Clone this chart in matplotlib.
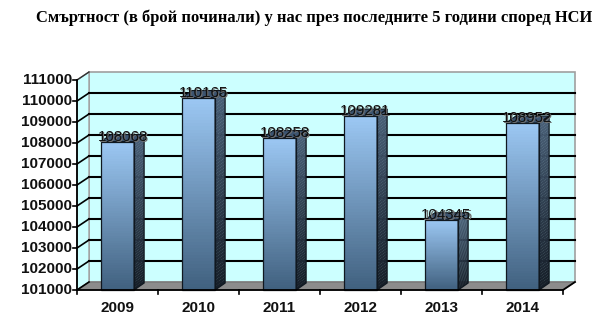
import matplotlib
matplotlib.use("Agg")
import matplotlib.pyplot as plt
import numpy as np
from matplotlib.patches import Polygon
from matplotlib.transforms import IdentityTransform
import matplotlib.colors as mcolors

years = ["2009", "2010", "2011", "2012", "2013", "2014"]
deaths = [108068, 110165, 108258, 109281, 104345, 108952]
y_ticks = list(range(101000, 111001, 1000))
title = "Смъртност (в брой починали) у нас през последните 5 години според НСИ"

W, H = 610, 329
fig = plt.figure(figsize=(W / 100, H / 100), dpi=100)
fig.patch.set_facecolor("white")

# front plane in pixels
fx0, fx1, fy_top, fy_bot = 77, 563, 80, 290
ax = fig.add_axes([fx0 / W, 1 - fy_bot / H, (fx1 - fx0) / W, (fy_bot - fy_top) / H])
ax.set_xlim(0, len(years))
ax.set_ylim(y_ticks[0], y_ticks[-1])
ax.axis("off")

DX, DY = 12, 8      # wall depth (pixels)
BDX, BDY = 10, 7    # bar depth (pixels)
ident = IdentityTransform()


def px(x, y):
    X, Y = ax.transData.transform((x, y))
    return X, Y


def poly(pts, **kw):
    p = Polygon(pts, closed=True, transform=ident, **kw)
    fig.add_artist(p)
    return p


ymin, ymax = y_ticks[0], y_ticks[-1]
n = len(years)

# back wall
bl = px(0, ymin); br = px(n, ymin); tl = px(0, ymax); tr = px(n, ymax)
poly([(bl[0] + DX, bl[1] + DY), (br[0] + DX, br[1] + DY), (tr[0] + DX, tr[1] + DY), (tl[0] + DX, tl[1] + DY)],
     facecolor="#ccffff", edgecolor="#a0a0a0", lw=1.2, zorder=1)
# side wall
poly([bl, (bl[0] + DX, bl[1] + DY), (tl[0] + DX, tl[1] + DY), tl],
     facecolor="#ccffff", edgecolor="#a0a0a0", lw=1.0, zorder=1)
# floor
poly([bl, br, (br[0] + DX, br[1] + DY), (bl[0] + DX, bl[1] + DY)],
     facecolor="#8c8c8c", edgecolor="#707070", lw=0.8, zorder=1)

# gridlines
for v in y_ticks[1:-1]:
    a = px(0, v); b = px(n, v)
    fig.add_artist(plt.Line2D([a[0] + DX, b[0] + DX], [a[1] + DY, b[1] + DY], color="black", lw=1.5, transform=ident, zorder=2))
for v in y_ticks[:-1]:
    a = px(0, v)
    fig.add_artist(plt.Line2D([a[0], a[0] + DX], [a[1], a[1] + DY], color="black", lw=1.2, transform=ident, zorder=2))
a = px(0, ymax)
fig.add_artist(plt.Line2D([a[0], a[0] + DX], [a[1], a[1] + DY], color="#303030", lw=1.0, transform=ident, zorder=2))

# bars
front_top = np.array(mcolors.to_rgb("#9cc8f4"))
front_bot = np.array(mcolors.to_rgb("#40607e"))
side_top = np.array(mcolors.to_rgb("#4a6078"))
side_bot = np.array(mcolors.to_rgb("#161e28"))
bw = 0.41
NS = 60
for i, v in enumerate(deaths):
    x0, x1 = i + 0.5 - bw / 2, i + 0.5 + bw / 2
    p0 = px(x0, ymin); p1 = px(x1, v)
    ys = np.linspace(p0[1], p1[1], NS + 1)
    for k in range(NS):
        t = (k + 0.5) / NS
        c = front_bot * (1 - t) + front_top * t
        poly([(p0[0], ys[k]), (p1[0], ys[k]), (p1[0], ys[k + 1] + 0.3), (p0[0], ys[k + 1] + 0.3)],
             facecolor=c, edgecolor="none", zorder=4)
        c2 = side_bot * (1 - t) + side_top * t
        poly([(p1[0], ys[k]), (p1[0] + BDX, ys[k] + BDY), (p1[0] + BDX, ys[k + 1] + BDY + 0.3), (p1[0], ys[k + 1] + 0.3)],
             facecolor=c2, edgecolor="none", zorder=4)
    # top face
    poly([(p0[0], p1[1]), (p1[0], p1[1]), (p1[0] + BDX, p1[1] + BDY), (p0[0] + BDX, p1[1] + BDY)],
         facecolor="#3c5470", edgecolor="#101820", lw=0.8, zorder=5)
    # outlines
    poly([(p0[0], p0[1]), (p1[0], p0[1]), (p1[0], p1[1]), (p0[0], p1[1])],
         facecolor="none", edgecolor="#101820", lw=0.9, zorder=5)
    poly([(p1[0], p0[1]), (p1[0] + BDX, p0[1] + BDY), (p1[0] + BDX, p1[1] + BDY), (p1[0], p1[1])],
         facecolor="none", edgecolor="#101820", lw=0.9, zorder=5)
    # value label
    cx = (p0[0] + p1[0]) / 2 + BDX / 2
    fig.text((cx + 1) / W, (p1[1] + 0) / H, f"{v}", ha="center", va="baseline",
             fontsize=10.8, family="Liberation Sans", color="#707070", zorder=6)
    fig.text(cx / W, (p1[1] + 1) / H, f"{v}", ha="center", va="baseline",
             fontsize=10.8, family="Liberation Sans", color="#111111", zorder=7)

# front axes lines
a = px(0, ymin); b = px(0, ymax)
fig.add_artist(plt.Line2D([a[0], b[0]], [a[1], b[1]], color="black", lw=1.3, transform=ident, zorder=6))
c = px(n, ymin)
fig.add_artist(plt.Line2D([a[0], c[0]], [a[1], c[1]], color="black", lw=1.3, transform=ident, zorder=6))
fig.add_artist(plt.Line2D([c[0], c[0] + DX], [c[1], c[1] + DY], color="black", lw=1.3, transform=ident, zorder=6))
for v in y_ticks:
    p = px(0, v)
    fig.add_artist(plt.Line2D([p[0] - 4, p[0]], [p[1], p[1]], color="black", lw=1.2, transform=ident, zorder=6))
    fig.text((p[0] - 5) / W, p[1] / H, f"{v}", ha="right", va="center",
             fontsize=11, fontweight="bold", family="Liberation Sans", color="#111111")
for i in range(n + 1):
    p = px(i, ymin)
    fig.add_artist(plt.Line2D([p[0], p[0]], [p[1], p[1] - 4], color="black", lw=1.2, transform=ident, zorder=6))
for i, yl in enumerate(years):
    p = px(i + 0.5, ymin)
    fig.text(p[0] / W, 1 - 308 / H, yl, ha="center", va="center",
             fontsize=11, fontweight="bold", family="Liberation Sans", color="#111111")

fig.text(314 / W, 1 - 18 / H, title, ha="center", va="center", fontsize=11.9,
         fontweight="bold", family="Liberation Serif", color="black")

fig.savefig("out.png", dpi=100)
